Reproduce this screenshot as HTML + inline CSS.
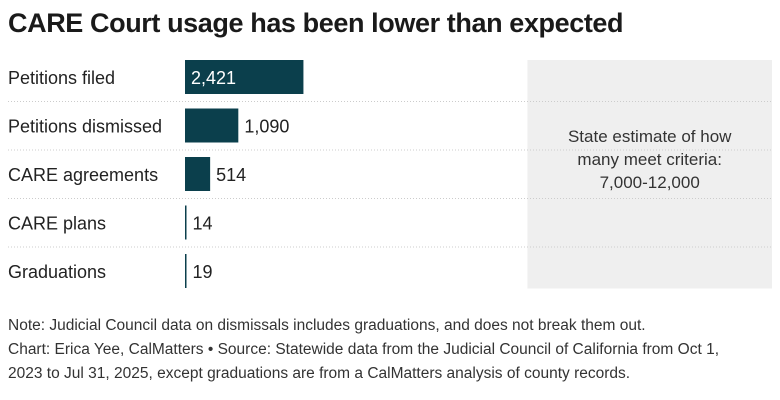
<!DOCTYPE html>
<html><head><meta charset="utf-8"><style>
body{margin:0;width:780px;height:400px;background:#fff;font-family:"Liberation Sans",sans-serif;color:#222;overflow:hidden;position:relative}
#title{position:absolute;left:8px;top:8px;font-size:27px;font-weight:bold;letter-spacing:-0.4px;color:#1a1a1a;margin:0}
.note{position:absolute;left:8px;font-size:15.5px;color:#333;line-height:24px;white-space:nowrap}
</style></head><body>
<h1 id="title">CARE Court usage has been lower than expected</h1>
<svg id="chart" width="780" height="300" style="position:absolute;left:0;top:0"></svg>
<div class="note" style="top:314px">Note: Judicial Council data on dismissals includes graduations, and does not break them out.</div>
<div class="note" style="top:338px">Chart: Erica Yee, CalMatters • Source: Statewide data from the Judicial Council of California from Oct 1,<br>2023 to Jul 31, 2025, except graduations are from a CalMatters analysis of county records.</div>
<script>
const categories=["Petitions filed","Petitions dismissed","CARE agreements","CARE plans","Graduations"];
const values=[2421,1090,514,14,19];
const labels=["2,421","1,090","514","14","19"];
const rangeLow=7000, rangeHigh=12000;
const NS="http://www.w3.org/2000/svg";
const svg=document.getElementById('chart');
const x0=185,x1=772,dMax=12000;
const x=v=>x0+(x1-x0)*v/dMax;
const top0=60,pitch=48.5,barH=34;
function mk(t,a){const e=document.createElementNS(NS,t);for(const k in a)e.setAttribute(k,a[k]);svg.appendChild(e);return e;}
const box=mk('rect',{x:x(rangeLow),y:top0,width:x(rangeHigh)-x(rangeLow),height:pitch*categories.length-14,fill:'#efefef'});


const lines=["State estimate of how","many meet criteria:","7,000-12,000"];
lines.forEach((s,i)=>{const t=mk('text',{x:(x(rangeLow)+x(rangeHigh))/2,y:142+i*23,'text-anchor':'middle','font-size':17,fill:'#333','font-family':'Liberation Sans'});t.textContent=s;

});
categories.forEach((c,i)=>{
const y=top0+i*pitch;
if(i>0){const l=mk('line',{x1:8,x2:772,y1:y-7,y2:y-7,stroke:'#ccc','stroke-dasharray':'1,2'});

}
const lt=mk('text',{x:8,y:y+24,'font-size':18,fill:'#222','font-family':'Liberation Sans'});lt.textContent=c;


const w=Math.max(x(values[i])-x0,1.5);
const b=mk('rect',{x:x0,y:y,width:w,height:barH,fill:'#0b3f4c'});


const inside=w>80;
const vt=mk('text',{x:inside?x0+6:x0+w+6,y:y+24,'font-size':18,fill:inside?'#fff':'#222','font-family':'Liberation Sans'});vt.textContent=labels[i];


});
</script>
</body></html>
